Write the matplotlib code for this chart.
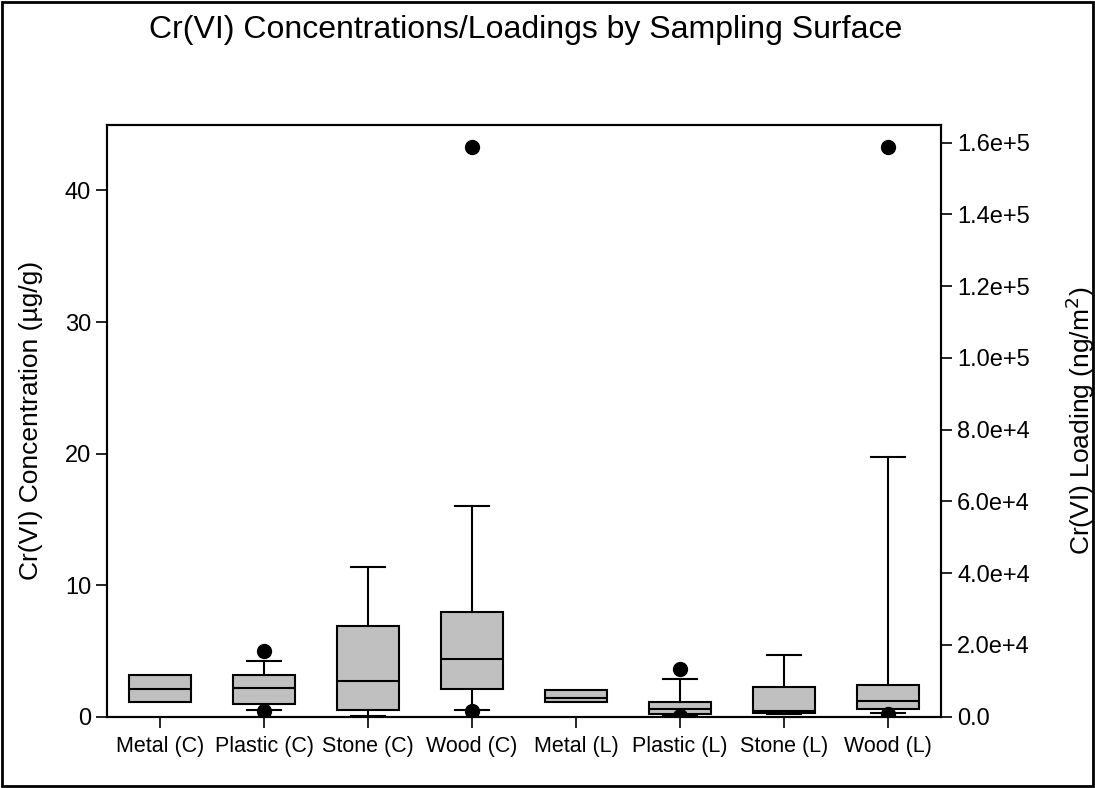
import numpy as np
import matplotlib
matplotlib.use("Agg")
import matplotlib.pyplot as plt
from matplotlib.patches import Rectangle

plt.rcParams['font.family'] = ['Liberation Sans', 'DejaVu Sans']

labels = ['Metal (C)', 'Plastic (C)', 'Stone (C)', 'Wood (C)',
          'Metal (L)', 'Plastic (L)', 'Stone (L)', 'Wood (L)']

# concentration (ug/g), left axis
conc_q1 = [1.12, 0.99, 0.51, 2.08]
conc_med = [2.1, 2.2, 2.71, 4.41]
conc_q3 = [3.15, 3.19, 6.92, 7.96]
conc_lo = [1.12, 0.51, 0.08, 0.51]
conc_hi = [3.15, 4.24, 11.4, 16.0]
conc_out = [[], [5.0, 0.45], [], [43.3, 0.45]]

# loading (ng/m2), right axis
load_q1 = [4100, 836, 950, 2150]
load_med = [5300, 2060, 1500, 4380]
load_q3 = [7530, 4100, 8360, 8920]
load_lo = [4100, 470, 836, 950]
load_hi = [7530, 10590, 17280, 72400]
load_out = [[], [13380, 200], [], [158700, 670]]

def make_stats(q1, med, q3, lo, hi, out):
    st = []
    for i in range(len(q1)):
        st.append(dict(q1=q1[i], med=med[i], q3=q3[i], whislo=lo[i],
                       whishi=hi[i], fliers=np.array(out[i])))
    return st

fig = plt.figure(figsize=(10.95, 7.88), dpi=100)
ax = fig.add_axes([0.0977, 0.0905, 0.7617, 0.7513])
ax2 = ax.twinx()

boxprops = dict(facecolor='#c0c0c0', edgecolor='black', linewidth=1.5)
medprops = dict(color='black', linewidth=1.5)
whprops = dict(color='black', linewidth=1.5)
flprops = dict(marker='o', markerfacecolor='black', markeredgecolor='black',
               markersize=10, linestyle='none')
caps = [0, 0.33, 0.33, 0.33]

ax.bxp(make_stats(conc_q1, conc_med, conc_q3, conc_lo, conc_hi, conc_out),
       positions=[1, 2, 3, 4], widths=0.6, capwidths=caps, patch_artist=True,
       boxprops=boxprops, medianprops=medprops, whiskerprops=whprops,
       capprops=whprops, flierprops=flprops)
ax2.bxp(make_stats(load_q1, load_med, load_q3, load_lo, load_hi, load_out),
        positions=[5, 6, 7, 8], widths=0.6, capwidths=caps, patch_artist=True,
        boxprops=boxprops, medianprops=medprops, whiskerprops=whprops,
        capprops=whprops, flierprops=flprops)

ax.set_xlim(0.49, 8.51)
ax.set_ylim(0, 45)
ax2.set_ylim(0, 165000)
ax.set_xticks(range(1, 9))
ax.set_xticklabels(labels, fontsize=15.5)
ax.set_yticks([0, 10, 20, 30, 40])
ax.tick_params(axis='y', labelsize=17, length=8, width=1.2)
ax.tick_params(axis='x', length=8, width=1.2, pad=6)
ax2.set_yticks(np.arange(0, 170000, 20000))
ax2.set_yticklabels(['0.0', '2.0e+4', '4.0e+4', '6.0e+4', '8.0e+4',
                     '1.0e+5', '1.2e+5', '1.4e+5', '1.6e+5'])
ax2.tick_params(axis='y', labelsize=17, length=8, width=1.2)
for a in (ax, ax2):
    for s in a.spines.values():
        s.set_linewidth(1.5)

ax.set_ylabel('Cr(VI) Concentration (\u00b5g/g)', fontsize=19, labelpad=16)
ax2.set_ylabel('Cr(VI) Loading (ng/m$^2$)', fontsize=19, labelpad=24)

fig.text(0.48, 0.962, 'Cr(VI) Concentrations/Loadings by Sampling Surface',
         ha='center', va='center', fontsize=23)

fig.patches.append(Rectangle((0.002, 0.003), 0.996, 0.994, transform=fig.transFigure,
                             fill=False, edgecolor='black', linewidth=2))

fig.savefig('out.png', dpi=100)
